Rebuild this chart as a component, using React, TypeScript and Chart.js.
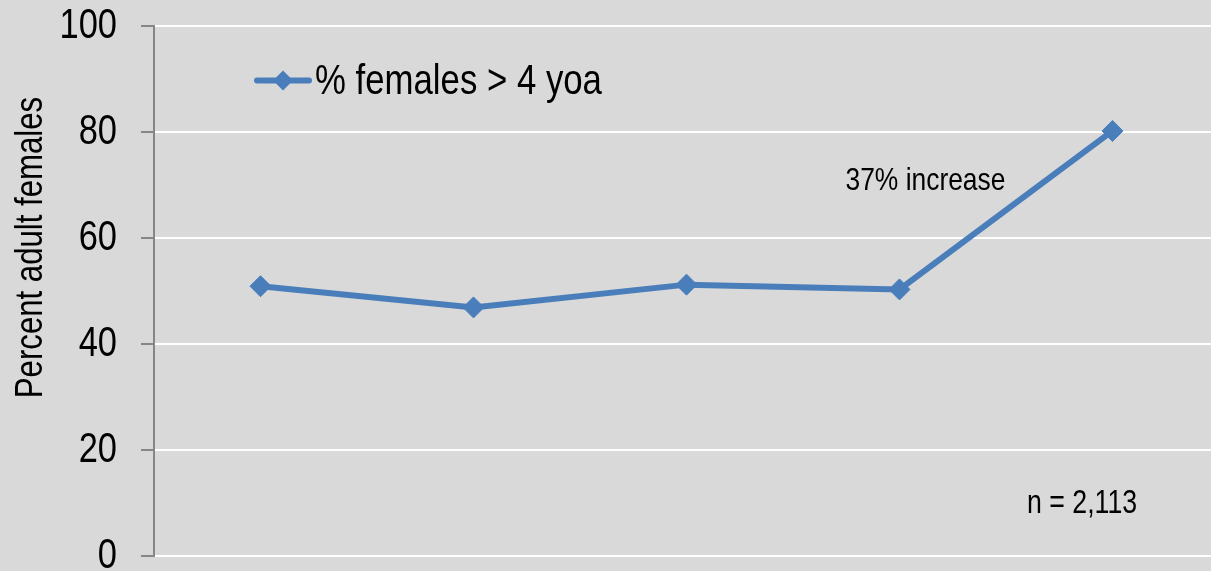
import React, { useEffect, useRef } from "react";
import { Chart, registerables } from "chart.js";

Chart.register(...registerables);

const categories: string[] = ["1", "2", "3", "4", "5"];
const seriesLabel = "% females > 4 yoa";
const femalesOver4: number[] = [50.9, 46.9, 51.2, 50.3, 80.2];
const yTicks: number[] = [0, 20, 40, 60, 80, 100];
const yTitle = "Percent adult females";
const noteIncrease = "37% increase";
const noteN = "n = 2,113";

const FONT = '"Liberation Sans", Arial, sans-serif';
const NARROW = 0.82;
const BLUE = "#4a7ebb";
const BG = "#d9d9d9";

function narrowText(
  ctx: CanvasRenderingContext2D,
  text: string,
  x: number,
  y: number,
  size: number,
  align: CanvasTextAlign,
  baseline: CanvasTextBaseline,
  rotate = 0
) {
  ctx.save();
  ctx.translate(x, y);
  if (rotate) ctx.rotate(rotate);
  ctx.scale(NARROW, 1);
  ctx.font = `${size}px ${FONT}`;
  ctx.fillStyle = "#000";
  ctx.textAlign = align;
  ctx.textBaseline = baseline;
  ctx.fillText(text, 0, 0);
  ctx.restore();
}

const overlayPlugin = {
  id: "overlay",
  afterDatasetsDraw(chart: any) {
    const ctx = chart.ctx as CanvasRenderingContext2D;
    const yScale = chart.scales.y;
    // y tick labels
    yTicks.forEach((v) => {
      narrowText(ctx, String(v), 117, yScale.getPixelForValue(v), 42, "right", "middle");
    });
    // y-axis title
    narrowText(ctx, yTitle, 41.5, 247.5, 38, "center", "alphabetic", -Math.PI / 2);

    // legend
    ctx.save();
    ctx.strokeStyle = BLUE;
    ctx.lineWidth = 6;
    ctx.lineCap = "round";
    ctx.beginPath();
    ctx.moveTo(257, 80.5);
    ctx.lineTo(309, 80.5);
    ctx.stroke();
    ctx.fillStyle = BLUE;
    ctx.beginPath();
    ctx.moveTo(283 - 10, 80.5);
    ctx.lineTo(283, 80.5 - 10);
    ctx.lineTo(283 + 10, 80.5);
    ctx.lineTo(283, 80.5 + 10);
    ctx.closePath();
    ctx.fill();
    ctx.restore();
    narrowText(ctx, seriesLabel, 315, 94, 42.4, "left", "alphabetic");

    // annotations
    narrowText(ctx, noteIncrease, 845.5, 190, 32.2, "left", "alphabetic");
    narrowText(ctx, noteN, 1027, 512.5, 32.6, "left", "alphabetic");
  },
};

const bgPlugin = {
  id: "bgfill",
  beforeDraw(chart: any) {
    const ctx = chart.ctx as CanvasRenderingContext2D;
    ctx.save();
    ctx.fillStyle = BG;
    ctx.fillRect(0, 0, chart.width, chart.height);
    ctx.restore();
  },
};

export default function App() {
  const ref = useRef<HTMLCanvasElement | null>(null);
  useEffect(() => {
    document.body.style.margin = "0";
    document.body.style.overflow = "hidden";
    const chart = new Chart(ref.current as HTMLCanvasElement, {
      type: "line",
      data: {
        labels: categories,
        datasets: [
          {
            label: seriesLabel,
            data: femalesOver4,
            borderColor: BLUE,
            backgroundColor: BLUE,
            borderWidth: 6,
            tension: 0,
            pointStyle: "rectRot",
            pointRadius: 10.5,
            pointBorderWidth: 1,
            pointBackgroundColor: BLUE,
            pointBorderColor: BLUE,
          },
        ],
      },
      options: {
        responsive: false,
        animation: false,
        layout: { padding: { top: 26, bottom: 44, right: 21, left: 0 } },
        plugins: {
          legend: { display: false },
          tooltip: { enabled: false },
          title: { display: false },
        },
        scales: {
          x: {
            display: false,
            offset: true,
          },
          y: {
            min: 0,
            max: 100,
            afterFit: (scale: any) => {
              scale.width = 154;
            },
            afterBuildTicks: (scale: any) => {
              scale.ticks = yTicks.map((v) => ({ value: v }));
            },
            grid: {
              color: "#ffffff",
              lineWidth: 2,
              tickColor: "#868686",
              tickLength: 13,
              drawTicks: true,
            },
            border: { color: "#868686", width: 2 },
            ticks: {
              display: false,
            },
          },
        },
      },
      plugins: [bgPlugin, overlayPlugin],
    });
    return () => chart.destroy();
  }, []);
  return (
    <div
      style={{
        position: "fixed",
        left: 0,
        top: 0,
        width: 1211,
        height: 571,
        overflow: "hidden",
        background: BG,
      }}
    >
      <canvas ref={ref} width={1240} height={600} style={{ display: "block" }} />
    </div>
  );
}
